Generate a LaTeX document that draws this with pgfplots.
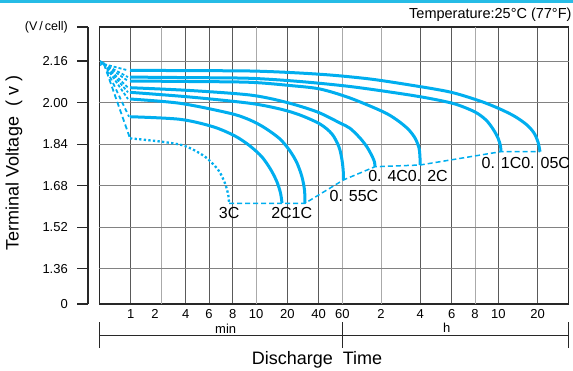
\documentclass[border=0pt]{standalone}
\usepackage{fontspec}
\setmainfont{Liberation Sans}
\usepackage{pgfplots}
\pgfplotsset{compat=1.18}
\definecolor{cy}{RGB}{0,174,239}
\definecolor{band}{RGB}{38,188,230}
\definecolor{gd}{RGB}{90,90,90}
\definecolor{gl}{RGB}{170,170,170}
\definecolor{gm}{RGB}{130,130,130}
\definecolor{fr}{RGB}{40,40,40}
\begin{document}
\begin{tikzpicture}
\fill[band] (0pt,367pt) rectangle (573pt,370pt);
\node[anchor=base east, inner sep=0pt, font=\fontsize{14.5}{14.5}\selectfont] at (571.7pt,351.7pt) {Temperature:25°C (77°F)};

\begin{axis}[
  at={(99.3pt,66pt)}, anchor=south west, scale only axis,
  width=469.4pt, height=277pt,
  xmin=99.3, xmax=568.7, ymin=1.224, ymax=2.291,
  axis line style={fr, line width=1.2pt},
  xtick={130.7,185.7,209,232.7,287.3,318.7,420.3,451.7,498.3,537.7},
  xticklabels={1,4,6,8,20,40,4,6,10,20},
  extra x ticks={161.7,256,342.3,381,475},
  extra x tick labels={\kern-13.4pt2,10,60,2,8},
  extra x tick style={major grid style={gl, line width=1pt}},
  ytick=\empty,
  extra y ticks={1.36,1.52,1.68,1.84,2.00,2.16},
  extra y tick labels={},
  extra y tick style={major grid style={gm, line width=1pt}},
  major tick length=0pt,
  xmajorgrids, ymajorgrids,
  major grid style={gd, line width=1pt},
  xticklabel style={font=\fontsize{13}{13}\selectfont, inner sep=0pt, anchor=north, yshift=-5.5pt},
  /pgf/number format/assume math mode=true,
]
% 0.05C
\addplot[cy, line width=3pt, smooth, tension=0.5] coordinates {
(130,2.124) (190,2.123) (250,2.1215) (290,2.1157) (330,2.1061) (370,2.0907) (410,2.0676) (450,2.0406) (480,2.0059) (500,1.9751) (515,1.9462) (527,1.9135) (534,1.8827) (538,1.8480) (540,1.8106)};
% 0.1C
\addplot[cy, line width=3pt, smooth, tension=0.5] coordinates {
(130,2.098) (190,2.096) (250,2.0934) (300,2.081) (350,2.0618) (400,2.0348) (430,2.0156) (455,1.9944) (475,1.9636) (486,1.9327) (493,1.8981) (498,1.8634) (500.5,1.8326) (501,1.8106)};
% 0.2C
\addplot[cy, line width=3pt, smooth, tension=0.5] coordinates {
(130,2.083) (190,2.081) (250,2.078) (290,2.0656) (320,2.0521) (350,2.0175) (383,1.9647) (397,1.9327) (408,1.8981) (415,1.8634) (419,1.8249) (420,1.7863) (420,1.7594)};
% 0.4C
\addplot[cy, line width=3pt, smooth, tension=0.5] coordinates {
(130,2.0572) (190,2.0464) (250,2.029) (285,2.0021) (316.7,1.9647) (340,1.9212) (350,1.9008) (360,1.8634) (367,1.8287) (372,1.7941) (374.5,1.771) (375,1.7528)};
% 0.55C
\addplot[cy, line width=3pt, smooth, tension=0.5] coordinates {
(130,2.0394) (190,2.0213) (250,1.9971) (280,1.9751) (300,1.952) (320,1.9173) (332,1.8788) (339,1.8287) (342,1.7786) (343.3,1.7324) (343.3,1.7016)};
% 1C
\addplot[cy, line width=3pt, smooth, tension=0.5] coordinates {
(130,2.0136) (180,1.9971) (230,1.9585) (250,1.9327) (265,1.9019) (280,1.8596) (290,1.8133) (297,1.7671) (302,1.7132) (304.5,1.6631) (305,1.613)};
% 2C
\addplot[cy, line width=3pt, smooth, tension=0.5] coordinates {
(130,1.9454) (180,1.9354) (213,1.9069) (235,1.8711) (250,1.8326) (262,1.7902) (271,1.7401) (277,1.6939) (280.5,1.6515) (282,1.613)};
% 3C (dotted)
\addplot[cy, line width=2.3pt, dash pattern=on 2.3pt off 2.3pt, smooth, tension=0.5] coordinates {
(130,1.8622) (161.7,1.8491) (185,1.8326) (205,1.7914) (218.3,1.7401) (225,1.6889) (228.3,1.6438) (229,1.6119)};
% fan of dashed lines from the start point
\addplot[cy, line width=1.8pt, dash pattern=on 3pt off 2pt] coordinates {(104,2.148) (128,2.124)};
\addplot[cy, line width=1.8pt, dash pattern=on 3pt off 2pt] coordinates {(104,2.148) (128,2.098)};
\addplot[cy, line width=1.8pt, dash pattern=on 3pt off 2pt] coordinates {(104,2.148) (128,2.083)};
\addplot[cy, line width=1.8pt, dash pattern=on 3pt off 2pt] coordinates {(104,2.148) (128,2.0572)};
\addplot[cy, line width=1.8pt, dash pattern=on 3pt off 2pt] coordinates {(104,2.148) (128,2.0394)};
\addplot[cy, line width=1.8pt, dash pattern=on 3pt off 2pt] coordinates {(104,2.148) (128,2.0136)};
\addplot[cy, line width=1.8pt, dash pattern=on 4pt off 3pt] coordinates {(104,2.148) (129,1.9454)};
\addplot[cy, line width=1.8pt, dash pattern=on 5pt off 3pt] coordinates {(104,2.148) (130,1.8622)};
% start marker
\addplot[cy, only marks, mark=triangle*, mark size=3pt, mark options={rotate=30}] coordinates {(101.8,2.152)};
% end-voltage dashed line
\addplot[cy, line width=1.5pt, dash pattern=on 5pt off 3pt] coordinates {
(229,1.6119) (305,1.6119) (343.3,1.7016) (375,1.7528) (420,1.7594) (500.5,1.8106) (540,1.8106)};
% curve labels
\node[font=\fontsize{16}{16}\selectfont, inner sep=0pt] at (axis cs:229.2,1.5764) {3C};
\node[font=\fontsize{16}{16}\selectfont, inner sep=0pt] at (axis cs:291.7,1.5764) {2C1C};
\node[font=\fontsize{16}{16}\selectfont, inner sep=0pt] at (axis cs:354,1.6400) {0. 55C};
\node[font=\fontsize{16}{16}\selectfont, inner sep=0pt] at (axis cs:408,1.7170) {0. 4C0. 2C};
\node[font=\fontsize{16}{16}\selectfont, inner sep=0pt] at (axis cs:525.8,1.7690) {0. 1C0. 05C};
\end{axis}

\begin{axis}[
  at={(88pt,66pt)}, anchor=south west, scale only axis,
  width=1pt, height=277pt,
  xmin=0, xmax=1, ymin=1.224, ymax=2.291,
  axis x line=none, axis y line=left,
  y axis line style={-, fr, line width=1.2pt},
  ytick={1.224,1.36,1.52,1.68,1.84,2.00,2.16,2.291},
  yticklabels={0,1.36,1.52,1.68,1.84,2.00,2.16,{\fontsize{12.5}{12.5}\selectfont(V\hspace{2pt}/\hspace{2pt}cell)}},
  tick align=outside, major tick length=11pt,
  ytick style={fr, line width=1.1pt},
  yticklabel style={font=\fontsize{13}{13}\selectfont, inner sep=0pt, anchor=east, xshift=-9pt},
]
\addplot[draw=none] coordinates {(0,1.5)};
\end{axis}

% axis titles
\node[rotate=90, font=\fontsize{18}{18}\selectfont, inner sep=0pt] at (14pt,207pt) {Terminal\ Voltage\ \ (\ v\ )};
\node[anchor=base, font=\fontsize{18}{18}\selectfont, inner sep=0pt] at (317pt,6pt) {Discharge\ \ Time};

% min / h brackets
\draw[fr, line width=1.2pt] (99.3pt,34.5pt) -- (568.7pt,34.5pt);
\draw[fr, line width=1.2pt] (99.3pt,22pt) -- (99.3pt,48.3pt);
\draw[fr, line width=1.2pt] (342.3pt,22pt) -- (342.3pt,48.3pt);
\draw[fr, line width=1.2pt] (568.7pt,22pt) -- (568.7pt,48.3pt);
\node[anchor=base, inner sep=0pt, font=\fontsize{13}{13}\selectfont] at (225.7pt,37pt) {min};
\node[anchor=base, inner sep=0pt, font=\fontsize{13}{13}\selectfont] at (446.7pt,37.3pt) {h};
\pgfresetboundingbox
\useasboundingbox (0pt,0pt) rectangle (573pt,370pt);
\end{tikzpicture}
\end{document}
